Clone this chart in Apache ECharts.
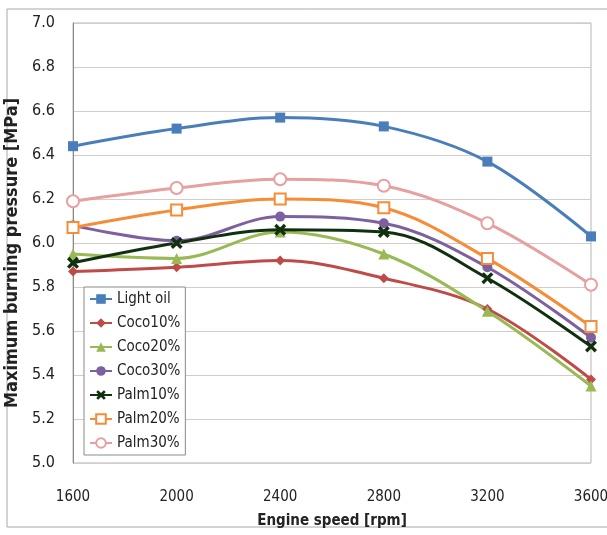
<!DOCTYPE html>
<html>
<head>
<meta charset="utf-8">
<script src="https://cdn.jsdelivr.net/npm/echarts@6/dist/echarts.min.js"></script>
<style>
    html, body { margin: 0; padding: 0; background: #fff; }
    #chart { width: 607px; height: 535px; }
</style>
</head>
<body>
<div id="chart"></div>
<script>
var speeds = [1600, 2000, 2400, 2800, 3200, 3600];

var lightOil = [6.44, 6.52, 6.57, 6.53, 6.37, 6.03];
var coco10 = [5.87, 5.89, 5.92, 5.84, 5.70, 5.38];
var coco20 = [5.95, 5.93, 6.05, 5.95, 5.69, 5.35];
var coco30 = [6.08, 6.01, 6.12, 6.09, 5.89, 5.57];
var palm10 = [5.91, 6.00, 6.06, 6.05, 5.84, 5.53];
var palm20 = [6.07, 6.15, 6.20, 6.16, 5.93, 5.62];
var palm30 = [6.19, 6.25, 6.29, 6.26, 6.09, 5.81];

var font = "'DejaVu Sans Condensed', 'Liberation Sans', sans-serif";
var crossMark = 'path://M2,0 L5,3 L8,0 L10,2 L7,5 L10,8 L8,10 L5,7 L2,10 L0,8 L3,5 L0,2 Z';

function pairs(values) {
    return values.map(function (v, i) { return [speeds[i], v]; });
}

function makeSeries(name, values, color, symbol, size, hollow) {
    return {
        name: name,
        type: 'line',
        data: pairs(values),
        smooth: 0.35,
        symbol: symbol,
        symbolSize: size,
        lineStyle: { color: color, width: 3 },
        itemStyle: hollow ? { color: color, borderColor: color, borderWidth: 2 } : { color: color, borderWidth: 0 }
    };
}

const chart = echarts.init(document.getElementById('chart'));

var option = {
    animation: false,
    backgroundColor: '#fff',
    graphic: [{
        type: 'rect',
        shape: { x: 7, y: 9, width: 620, height: 518 },
        style: { fill: 'none', stroke: '#a8a8a8', lineWidth: 1 },
        z: -1
    }],
    grid: {
        left: 73, right: 16, top: 23, bottom: 72,
        outerBoundsMode: 'none',
        containLabel: false,
        show: true,
        borderColor: '#bdb3b3',
        borderWidth: 1
    },
    legend: {
        orient: 'vertical',
        left: 84,
        top: 287,
        itemWidth: 22,
        itemHeight: 12,
        itemGap: 6,
        padding: [3, 5, 3, 5],
        borderColor: '#8a8a8a',
        borderWidth: 1,
        backgroundColor: '#fff',
        textStyle: { fontFamily: font, fontSize: 15, color: '#222', lineHeight: 18 },
        data: ['Light oil', 'Coco10%', 'Coco20%', 'Coco30%', 'Palm10%', 'Palm20%', 'Palm30%']
    },
    xAxis: {
        type: 'value',
        min: 1600,
        max: 3600,
        interval: 400,
        name: 'Engine speed [rpm]',
        nameLocation: 'middle',
        nameGap: 51,
        nameTextStyle: { fontFamily: font, fontSize: 15, fontWeight: 'bold', color: '#222' },
        axisLine: { show: false },
        axisTick: { show: false },
        splitLine: { show: false },
        axisLabel: {
            fontFamily: font, fontSize: 15, color: '#222', margin: 27,
            formatter: function (v) { return String(v); }
        }
    },
    yAxis: {
        type: 'value',
        min: 5,
        max: 7,
        interval: 0.2,
        name: 'Maximum burning pressure [MPa]',
        nameLocation: 'middle',
        nameGap: 43,
        nameTextStyle: { fontFamily: font, fontSize: 18, fontWeight: 'bold', color: '#222', padding: [0, 20, 0, 0] },
        axisLine: { show: true, lineStyle: { color: '#8a8a8a', width: 1 } },
        axisTick: { show: false },
        splitLine: { show: true, lineStyle: { color: '#d6cbcb', width: 1 } },
        axisLabel: {
            fontFamily: font, fontSize: 16, color: '#222', margin: 18,
            formatter: function (v) { return v.toFixed(1); }
        }
    },
    series: [
        makeSeries('Light oil', lightOil, '#4a7ebb', 'rect', 10, false),
        makeSeries('Coco10%', coco10, '#be4b48', 'diamond', 10, false),
        makeSeries('Coco20%', coco20, '#98b954', 'triangle', 11, false),
        makeSeries('Coco30%', coco30, '#7d60a0', 'circle', 10, false),
        makeSeries('Palm10%', palm10, '#10300f', crossMark, 12, false),
        makeSeries('Palm20%', palm20, '#f68c36', 'emptyRect', 11, true),
        makeSeries('Palm30%', palm30, '#e6a0a0', 'emptyCircle', 12, true)
    ]
};

option && chart.setOption(option);
</script>
</body>
</html>
